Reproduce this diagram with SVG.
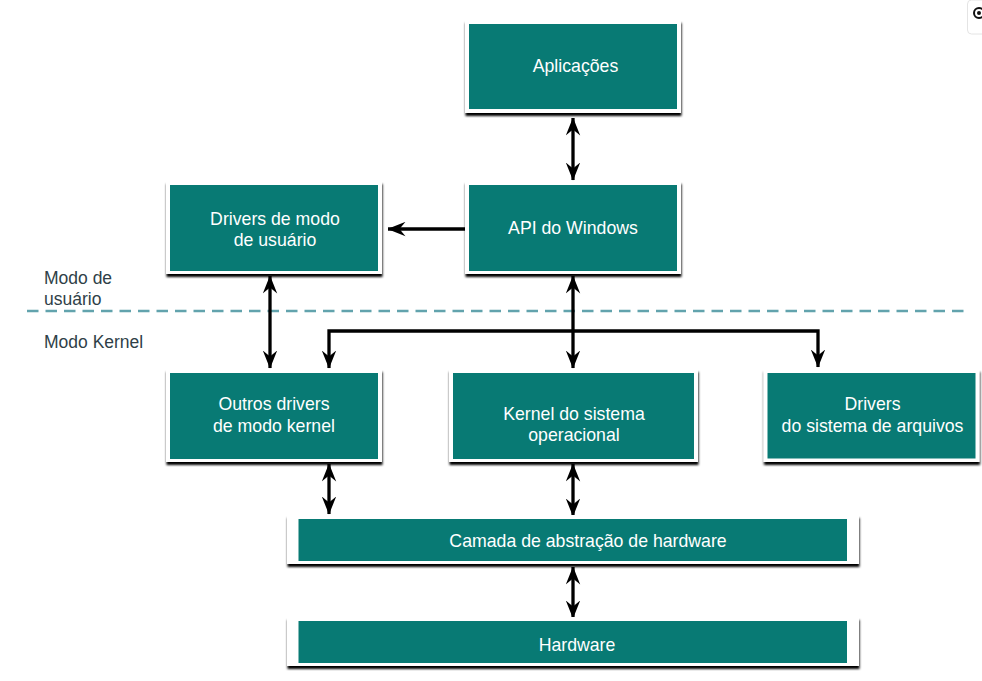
<svg xmlns="http://www.w3.org/2000/svg" width="982" height="681" viewBox="0 0 982 681">
<defs>
<filter id="sh" x="-5%" y="-10%" width="110%" height="125%"><feDropShadow dx="0.5" dy="3" stdDeviation="1" flood-color="#000" flood-opacity="1"/></filter>
<marker id="ah" viewBox="0 0 18 15" refX="17.5" refY="7.5" markerUnits="userSpaceOnUse" markerWidth="18" markerHeight="15" orient="auto-start-reverse"><path d="M0 0.3 L18 7.5 L0 14.7 L6 7.5 Z" fill="#000"/></marker>
</defs>
<style>
.f{fill:#fff;filter:url(#sh)}
.t{fill:#087a74}
.x{font-family:"Liberation Sans",Arial,sans-serif;font-size:17.7px;fill:#fff;text-anchor:middle}
.l{font-family:"Liberation Sans",Arial,sans-serif;font-size:17.5px;fill:#2f3f48}
.c{fill:none;stroke:#000;stroke-width:3.3}
</style>
<g id="widget"><rect x="967.5" y="0" width="20" height="34" rx="4" fill="#fff" stroke="#e4e4e4"/><circle cx="979" cy="13" r="5" fill="#fff" stroke="#111" stroke-width="2"/><circle cx="979" cy="13" r="2" fill="#111"/></g>
<g id="divider"><line x1="27" y1="311" x2="964" y2="311" stroke="#62a3ad" stroke-width="2.4" stroke-dasharray="11.5 7"/></g>
<g id="connectors">
<line class="c" x1="573" y1="118" x2="573" y2="180" marker-start="url(#ah)" marker-end="url(#ah)"/>
<line class="c" x1="465" y1="229" x2="388" y2="229" marker-end="url(#ah)"/>
<line class="c" x1="270" y1="276" x2="270" y2="368" marker-start="url(#ah)" marker-end="url(#ah)"/>
<line class="c" x1="573" y1="276" x2="573" y2="368" marker-start="url(#ah)" marker-end="url(#ah)"/>
<path class="c" d="M329 368V331H818V367" marker-start="url(#ah)" marker-end="url(#ah)"/>
<line class="c" x1="329" y1="464" x2="329" y2="514" marker-start="url(#ah)" marker-end="url(#ah)"/>
<line class="c" x1="573" y1="464" x2="573" y2="516" marker-start="url(#ah)" marker-end="url(#ah)"/>
<line class="c" x1="573" y1="567" x2="573" y2="618" marker-start="url(#ah)" marker-end="url(#ah)"/>
</g>
<g id="aplicacoes"><rect class="f" x="465" y="20" width="216" height="93"/><rect class="t" x="469" y="24" width="208" height="85"/><text class="x" x="575.500" y="71.700">Aplicações</text></g>
<g id="api"><rect class="f" x="465" y="181" width="216" height="93"/><rect class="t" x="469" y="185" width="208" height="86"/><text class="x" x="573" y="233.700">API do Windows</text></g>
<g id="drivers-usuario"><rect class="f" x="166" y="181" width="216" height="93"/><rect class="t" x="170" y="185" width="208" height="86"/><text class="x" x="275" y="224.700">Drivers de modo</text><text class="x" x="275" y="246">de usuário</text></g>
<g id="outros"><rect class="f" x="166" y="369" width="216" height="93"/><rect class="t" x="170" y="373" width="208" height="86"/><text class="x" x="274" y="409.700">Outros drivers</text><text class="x" x="274" y="431.700">de modo kernel</text></g>
<g id="kernel"><rect class="f" x="449" y="369" width="249" height="93"/><rect class="t" x="453" y="373" width="241" height="86"/><text class="x" x="574" y="419.700">Kernel do sistema</text><text class="x" x="574" y="440.700">operacional</text></g>
<g id="drivers-fs"><rect class="f" x="763.500" y="369" width="216" height="93"/><rect class="t" x="767.500" y="373" width="208" height="85.500"/><text class="x" x="872.500" y="409.700">Drivers</text><text class="x" x="872.500" y="431.700">do sistema de arquivos</text></g>
<g id="camada"><rect class="f" x="287" y="515" width="572" height="49"/><rect class="t" x="298.500" y="519" width="548.500" height="42"/><text class="x" x="588" y="546.700">Camada de abstração de hardware</text></g>
<g id="hardware"><rect class="f" x="287" y="617" width="572" height="49"/><rect class="t" x="298.500" y="621" width="548.500" height="42"/><text class="x" x="577" y="650.500">Hardware</text></g>
<g id="labels"><text class="l" x="44" y="283.500">Modo de</text><text class="l" x="44" y="304.500">usuário</text><text class="l" x="44" y="348">Modo Kernel</text></g>
</svg>
